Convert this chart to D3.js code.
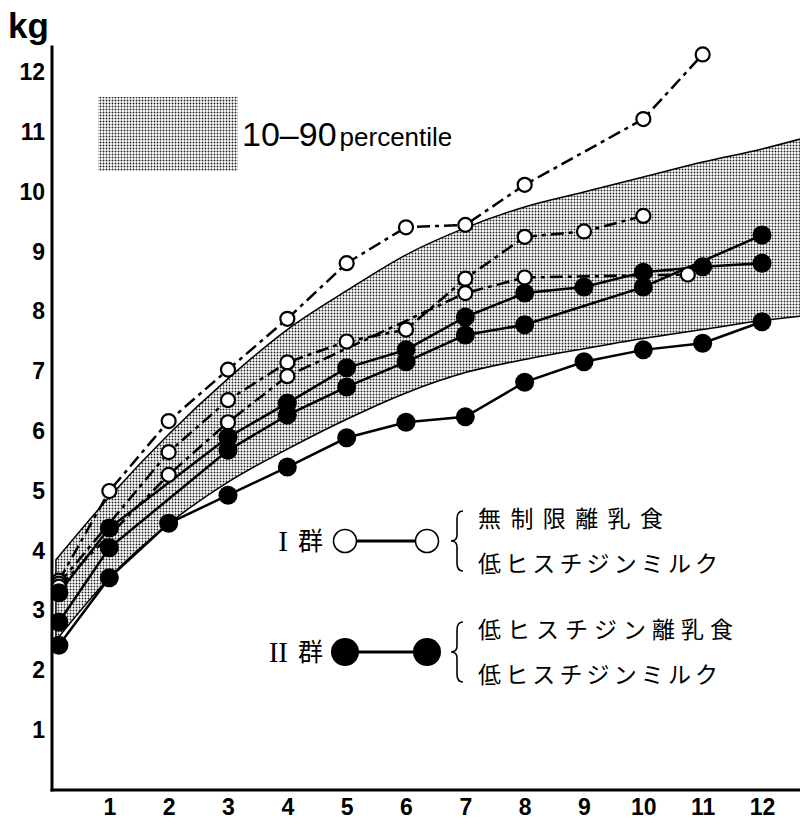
<!DOCTYPE html>
<html>
<head>
<meta charset="utf-8">
<script src="https://cdn.jsdelivr.net/npm/d3@7"></script>
<style>
  body { margin: 0; background: #fff; }
  svg { display: block; }
</style>
</head>
<body>
<svg id="chart" width="800" height="822"></svg>
<script>
// tick labels
const monthTicks = [1, 2, 3, 4, 5, 6, 7, 8, 9, 10, 11, 12];
const kgTicks = [1, 2, 3, 4, 5, 6, 7, 8, 9, 10, 11, 12];

// 10-90 percentile band
const bandMonths = [0.1, 1, 2, 3, 4, 5, 6, 7, 8, 9, 10, 11, 12, 12.7];
const band10 = [2.5, 3.55, 4.45, 5.15, 5.7, 6.2, 6.64, 6.98, 7.2, 7.38, 7.55, 7.7, 7.85, 7.93];
const band90 = [3.85, 4.9, 5.95, 6.88, 7.7, 8.35, 8.95, 9.4, 9.75, 10.0, 10.25, 10.5, 10.72, 10.9];

// group I (open circles, dashed)
const open1 = [[0.15, 3.5], [1, 5.0], [2, 6.17], [3, 7.03], [4, 7.88], [5, 8.81], [6, 9.41], [7, 9.45], [8, 10.12], [10, 11.22], [11, 12.3]];
const open2 = [[0.15, 3.45], [2, 5.65], [3, 6.52], [4, 7.15], [5, 7.5], [6, 7.7], [7, 8.55], [8, 9.25], [9, 9.34], [10, 9.6]];
const open3 = [[0.15, 3.4], [2, 5.27], [3, 6.15], [4, 6.92], [7, 8.31], [8, 8.57], [10.75, 8.62]];

// group II (filled circles, solid)
const filled1 = [[0.15, 3.3], [1, 4.38], [3, 5.9], [4, 6.47], [5, 7.06], [6, 7.36], [7, 7.91], [8, 8.31], [9, 8.41], [10, 8.66], [11, 8.75], [12, 8.81]];
const filled2 = [[0.15, 2.81], [1, 4.05], [3, 5.68], [4, 6.27], [5, 6.74], [6, 7.16], [7, 7.61], [8, 7.78], [10, 8.41], [12, 9.28]];
const filled3 = [[0.15, 2.42], [1, 3.55], [2, 4.46], [3, 4.93], [4, 5.4], [5, 5.89], [6, 6.15], [7, 6.24], [8, 6.82], [9, 7.16], [10, 7.36], [11, 7.47], [12, 7.83]];

const openSeries = [open1, open2, open3];
const filledSeries = [filled1, filled2, filled3];

const svg = d3.select('#chart');

const x = d3.scaleLinear().domain([0, 12]).range([50, 762]);
const y = d3.scaleLinear().domain([0, 12]).range([790, 72.4]);

// halftone-like pattern for the band
const defs = svg.append('defs');
const pat = defs.append('pattern')
  .attr('id', 'dots')
  .attr('width', 3)
  .attr('height', 3)
  .attr('patternUnits', 'userSpaceOnUse');
pat.append('rect').attr('width', 3).attr('height', 3).attr('fill', '#fff');
pat.append('circle').attr('cx', 1.5).attr('cy', 1.5).attr('r', 0.95).attr('fill', '#222');

defs.append('clipPath').attr('id', 'plot-clip')
  .append('rect').attr('x', 52).attr('y', 0).attr('width', 748).attr('height', 790);

const bandData = bandMonths.map((m, i) => ({ m, lo: band10[i], hi: band90[i] }));

const area = d3.area()
  .x((d) => x(d.m))
  .y0((d) => y(d.lo))
  .y1((d) => y(d.hi))
  .curve(d3.curveMonotoneX);

const plot = svg.append('g').attr('clip-path', 'url(#plot-clip)');

plot.append('path')
  .datum(bandData)
  .attr('d', area)
  .attr('fill', 'url(#dots)')
  .attr('stroke', '#000')
  .attr('stroke-width', 1.5);

const line = d3.line()
  .x((d) => x(d[0]))
  .y((d) => y(d[1]));

// series lines
plot.selectAll('path.open-line')
  .data(openSeries)
  .enter()
  .append('path')
  .attr('class', 'open-line')
  .attr('d', line)
  .attr('fill', 'none')
  .attr('stroke', '#000')
  .attr('stroke-width', 2.5)
  .attr('stroke-dasharray', '13,5,4,5');

plot.selectAll('path.filled-line')
  .data(filledSeries)
  .enter()
  .append('path')
  .attr('class', 'filled-line')
  .attr('d', line)
  .attr('fill', 'none')
  .attr('stroke', '#000')
  .attr('stroke-width', 2.5);

// markers
plot.selectAll('circle.open')
  .data(openSeries.flat())
  .enter()
  .append('circle')
  .attr('class', 'open')
  .attr('cx', (d) => x(d[0]))
  .attr('cy', (d) => y(d[1]))
  .attr('r', 7)
  .attr('fill', '#fff')
  .attr('stroke', '#000')
  .attr('stroke-width', 2.2);

plot.selectAll('circle.filled')
  .data(filledSeries.flat())
  .enter()
  .append('circle')
  .attr('class', 'filled')
  .attr('cx', (d) => x(d[0]))
  .attr('cy', (d) => y(d[1]))
  .attr('r', 9.5)
  .attr('fill', '#000');

// axes
const numFont = '"Liberation Sans", Arial, sans-serif';

const yAxis = svg.append('g')
  .attr('transform', `translate(${x(0) + 2},0)`)
  .call(d3.axisLeft(y).tickValues(kgTicks).tickSize(0).tickPadding(7));
yAxis.select('.domain').remove();
yAxis.selectAll('text')
  .attr('font-family', numFont)
  .attr('font-weight', 'bold')
  .attr('font-size', 23)
  .attr('fill', '#000');

const xAxis = svg.append('g')
  .attr('transform', `translate(0,${y(0)})`)
  .call(d3.axisBottom(x).tickValues(monthTicks).tickSize(0).tickPadding(9));
xAxis.select('.domain').remove();
xAxis.selectAll('text')
  .attr('font-family', numFont)
  .attr('font-weight', 'bold')
  .attr('font-size', 23)
  .attr('fill', '#000');

svg.append('line')
  .attr('x1', x(0) + 2).attr('x2', x(0) + 2)
  .attr('y1', y(12.45)).attr('y2', y(0) + 1.5)
  .attr('stroke', '#000').attr('stroke-width', 3);

svg.append('line')
  .attr('x1', x(0) + 0.5).attr('x2', 800)
  .attr('y1', y(0)).attr('y2', y(0))
  .attr('stroke', '#000').attr('stroke-width', 3);

svg.append('text')
  .attr('x', 8).attr('y', 38)
  .attr('font-family', numFont)
  .attr('font-weight', 'bold')
  .attr('font-size', 35)
  .text('kg');

// percentile legend
svg.append('rect')
  .attr('x', 98).attr('y', 97)
  .attr('width', 140).attr('height', 74)
  .attr('fill', 'url(#dots)');

const pctText = svg.append('text')
  .attr('x', 242).attr('y', 146)
  .attr('font-family', numFont);
pctText.append('tspan').attr('font-size', 34).text('10–90');
pctText.append('tspan').attr('font-size', 26).attr('dx', 3).text('percentile');

// group legend
const cjk = '"Noto Sans CJK JP", sans-serif';
const serif = '"Liberation Serif", "DejaVu Serif", serif';

const groups = [
  { numeral: 'I', cy: 541, filled: false, lines: ['無制限離乳食', '低ヒスチジンミルク'], widths: [185, 240] },
  { numeral: 'II', cy: 652, filled: true, lines: ['低ヒスチジン離乳食', '低ヒスチジンミルク'], widths: [255, 240] },
];

groups.forEach((g) => {
  svg.append('text')
    .attr('x', 288).attr('y', g.cy + 10)
    .attr('text-anchor', 'end')
    .attr('font-family', serif)
    .attr('font-size', 29)
    .text(g.numeral);
  svg.append('text')
    .attr('x', 298).attr('y', g.cy + 9)
    .attr('font-family', cjk)
    .attr('font-size', 25)
    .text('群');

  svg.append('line')
    .attr('x1', 345).attr('x2', 427)
    .attr('y1', g.cy).attr('y2', g.cy)
    .attr('stroke', '#000').attr('stroke-width', 3);

  [345, 427].forEach((cx) => {
    svg.append('circle')
      .attr('cx', cx).attr('cy', g.cy)
      .attr('r', g.filled ? 14 : 11.5)
      .attr('fill', g.filled ? '#000' : '#fff')
      .attr('stroke', '#000')
      .attr('stroke-width', g.filled ? 0 : 1.6);
  });

  const top = g.cy - 30;
  const bot = g.cy + 30;
  const bx = 457;
  svg.append('path')
    .attr('d', `M${bx + 6},${top} Q${bx},${top} ${bx},${top + 8} L${bx},${g.cy - 6} Q${bx},${g.cy} ${bx - 6},${g.cy}`
      + ` Q${bx},${g.cy} ${bx},${g.cy + 6} L${bx},${bot - 8} Q${bx},${bot} ${bx + 6},${bot}`)
    .attr('fill', 'none')
    .attr('stroke', '#000')
    .attr('stroke-width', 1.6);

  g.lines.forEach((t, i) => {
    svg.append('text')
      .attr('x', 478).attr('y', g.cy - 22 + i * 45 + 8)
      .attr('font-family', cjk)
      .attr('font-size', 23)
      .attr('textLength', g.widths[i])
      .attr('lengthAdjust', 'spacing')
      .text(t);
  });
});
</script>
</body>
</html>
